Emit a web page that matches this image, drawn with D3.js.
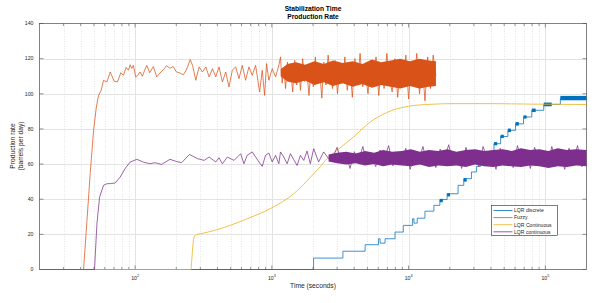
<!DOCTYPE html>
<html>
<head>
<meta charset="utf-8">
<script src="https://cdn.jsdelivr.net/npm/d3@7"></script>
<style>
body { margin: 0; background: #fff; }
svg { display: block; font-family: "Liberation Sans", Arial, sans-serif; }
</style>
</head>
<body>
<svg width="602" height="303"></svg>
<script>
// values: time (s) and production rate (barrels per day)
var seriesNames = ["LQR discrete", "Fuzzy", "LQR Continuous", "LQR continuous"];
var seriesColors = ["#0072BD", "#D95319", "#EDB120", "#7E2F8E"];

var yTicks = [0, 20, 40, 60, 80, 100, 120, 140];
var xTicks = [100, 1000, 10000, 100000];
var xExponents = ["2", "3", "4", "5"];

// LQR discrete: staircase levels, plus the short dark blocks where it chatters
var discreteT = [20, 2020, 3310, 4810, 6020, 6190, 6730, 7960, 9150, 10700, 10950, 11570, 13170, 15310, 16930, 19130, 23010, 25320, 28820, 31330, 33680, 37860, 42090, 47100, 53220, 60550, 69270, 79620, 97360, 128800, 200000];
var discreteV = [0, 6.5, 10.4, 14.1, 17.5, 15.0, 17.5, 21.3, 25.1, 28.9, 26.4, 29.2, 33.2, 36.5, 39.8, 43.1, 47.9, 51.7, 55.5, 58.7, 62.1, 66.5, 71.6, 75.7, 79.2, 82.9, 86.8, 90.6, 94.0, 97.6, 97.6];
var blockT0 = [16930, 19130, 25320, 42090, 47100, 53220, 60550, 69270, 79620, 97360, 128800];
var blockT1 = [17800, 20100, 26600, 44500, 49700, 56000, 64000, 73000, 85000, 111300, 200000];
var blockLo = [38.3, 41.6, 50.0, 70.7, 74.8, 78.2, 81.9, 85.9, 89.6, 92.9, 96.3];
var blockHi = [40.2, 43.4, 52.0, 72.5, 76.7, 80.2, 83.9, 87.7, 91.6, 95.0, 98.8];

// Fuzzy
var fuzzyT = [20, 42, 44.5, 47, 49.7, 52, 54, 56.5, 58.8, 62.2, 65.8, 70.3, 74.3, 78.7, 82.2, 85.9, 89.4, 92, 94.5, 97.2, 101, 104.5, 108.7, 113, 117, 121.7, 128, 136, 144, 152, 160, 170, 180, 190, 200, 213, 225, 235, 242, 253, 263, 278, 294, 311, 329, 348, 368, 389, 411, 435, 460, 486, 514, 544, 575, 608, 643, 680, 719, 761, 814, 851, 885, 915, 951, 1006, 1064, 1125];
var fuzzyV = [0, 0, 28, 55, 79, 92, 99, 102, 107.7, 106.7, 112.4, 107.2, 106.7, 112, 110.5, 115, 113.4, 116.5, 114.4, 116.2, 109.6, 110.5, 112.4, 110, 113, 116.2, 112, 115.5, 109.6, 111.8, 113.5, 116, 114.5, 115.5, 112.5, 111.8, 110.8, 113, 115.3, 119.5, 116.2, 107.7, 115.3, 112.4, 115.3, 109.6, 114.3, 109.6, 115.3, 106.7, 112.4, 103.9, 113.4, 115.3, 108.6, 116.2, 107.7, 115.3, 110.5, 116.2, 101.0, 113.4, 99.1, 117.2, 107.7, 114.3, 109.6, 116.2];
var fuzzyNoiseT = [1157, 1190, 1223, 1260, 1300, 1340, 1380, 1420, 1470, 1520, 1570, 1620, 1680, 1740, 1800, 1870, 1940, 2010, 2080, 2160, 2240, 2320, 2400, 2490, 2580, 2680, 2780, 2900, 3020, 3150, 3280, 3420, 3560, 3720, 3880, 4050, 4230, 4420, 4620, 4830, 5050, 5280, 5520, 5780, 6050, 6330, 6620, 6930, 7250, 7590, 7950, 8320, 8710, 9120, 9550, 10000, 10470, 10960, 11480, 12020, 12590, 13180, 13800, 14450, 15130, 15850];
var fuzzyNoiseV = [121, 106, 115, 103, 118, 108, 112, 101, 119, 105, 116, 102, 120, 107, 114, 99, 117, 104, 121, 108, 113, 97.5, 118, 105, 122, 110, 103, 119, 100, 116, 106, 121, 102, 115, 98, 120, 107, 123, 104, 112, 100, 119, 106, 121, 99, 117, 103, 123, 108, 101, 120, 98, 115, 104, 122, 97, 118, 106, 123, 100, 116, 96, 121, 103, 122, 110];
var fuzzyBandT = [1160, 1300, 1500, 1750, 2050, 2400, 2800, 3300, 3900, 4600, 5400, 6300, 7400, 8700, 10200, 12000, 14000, 15850];
var fuzzyBandLo = [110, 107, 106, 107.5, 105, 106.5, 104.5, 106, 104, 105.5, 103.5, 105, 104, 103, 104.5, 103, 104, 104.5];
var fuzzyBandHi = [114, 117, 118, 116.5, 118.5, 117, 119, 117.5, 118.5, 117, 119.5, 118, 119, 120, 118.5, 120, 119, 118.5];

// LQR Continuous
var contT = [20, 256, 260, 265, 270, 280, 300, 378, 500, 662, 1000, 1446, 2023, 2263, 2529, 2992, 3955, 5236, 6922, 9960, 14320, 21130, 40000, 80000, 200000];
var contV = [0, 0, 6, 14, 18.5, 19.8, 20.3, 22.2, 25.2, 28.9, 35.1, 43.1, 54.5, 58.5, 63.1, 67.8, 75.4, 83.9, 89.3, 92.9, 94.0, 94.4, 94.4, 94.1, 93.9];

// LQR continuous
var purpleT = [20, 50.5, 52.6, 55, 58.8, 62.2, 66, 71.5, 77.8, 84.5, 92, 103, 115, 128.5, 140, 156, 180, 200, 219, 250, 286, 320, 348, 389, 411, 435, 473, 529, 592, 625, 660, 719, 805, 851, 900, 951, 1006, 1064, 1125, 1157, 1223, 1294, 1368, 1446, 1530, 1618, 1711, 1809, 1913, 2023, 2198, 2392, 2600];
var purpleV = [0, 0, 26, 41.2, 47.9, 48.8, 48.9, 49.2, 52.6, 57.4, 61.1, 62.7, 61.1, 60.2, 60.8, 59.8, 62.7, 61.5, 60.8, 65.5, 63.1, 62.1, 64.0, 61.2, 63.6, 60.2, 64.0, 62.1, 65.9, 60.2, 65.0, 66.9, 61.2, 58.7, 65.0, 66.3, 61.2, 65.0, 60.2, 66.9, 64.0, 60.2, 65.9, 62.5, 59.2, 65.0, 62.1, 67.4, 60.2, 68.8, 61.2, 66.9, 63.1];
var purpleNoiseT = [2800, 3000, 3230, 3470, 3730, 4010, 4310, 4630, 4980, 5350, 5750, 6180, 6650, 7150, 7680, 8260, 8880, 9540, 10260, 11030, 11850, 12740, 13700, 14730, 15830, 17020, 18290, 19660, 21140, 22720, 24430, 26260, 28230, 30340, 32620, 35070, 37700, 40520, 43560, 46830, 50340, 54120, 58180, 62540, 67230, 72270, 77690, 83520, 89780, 96520, 103760, 111540, 119900, 128900, 138560, 148950, 160120, 172130, 185040, 198900];
var purpleNoiseV = [64, 69.5, 61, 66, 57.5, 67, 62, 70, 60, 65, 58.5, 68, 63, 70.5, 59, 66, 61.5, 69, 57, 65.5, 62, 70, 59.5, 67, 58, 68.5, 63, 71, 60, 66.5, 57.5, 69.5, 61, 65, 58.5, 70, 62.5, 67.5, 57, 69, 60.5, 66, 58, 70.5, 62, 68, 57.5, 69.5, 61, 65.5, 58.5, 70, 60, 67, 57, 69, 62, 70.5, 58.5, 63];
var purpleBandT = [2600, 3000, 3500, 4100, 4800, 5600, 6500, 7600, 8900, 10400, 12100, 14100, 16500, 19200, 22400, 26200, 30600, 35700, 41700, 48700, 56800, 66300, 77400, 90400, 105500, 123200, 143800, 167900, 200000];
var purpleBandLo = [61.5, 60.5, 59.8, 60.5, 59.2, 60, 58.8, 59.7, 59.2, 58.7, 59.7, 58.3, 59.2, 58.7, 59.2, 58.3, 59.7, 58.7, 58.3, 59.2, 58.7, 58.3, 59.2, 58.7, 57.8, 58.7, 58.3, 59.2, 58.7];
var purpleBandHi = [65.5, 66.5, 67, 66, 67.5, 66.5, 68, 67, 67.5, 68.5, 67, 68, 67.5, 68.5, 67, 68, 68.5, 67.5, 68, 68.5, 67.5, 69, 68, 68.5, 67.5, 69, 68, 68.5, 68];

var svg = d3.select("svg"),
    pl = 39.5, pr = 586.5, pt = 23.5, pb = 269.5,
    ink = "#262626";

var x = d3.scaleLog().domain([20, 200000]).range([pl, pr]);
var y = d3.scaleLinear().domain([0, 140]).range([pb, pt]);

function pairs(ts, vs) {
  return ts.map(function(t, i) { return [t, vs[i]]; });
}

var line = d3.line()
    .x(function(d) { return x(d[0]); })
    .y(function(d) { return y(d[1]); });

var band = d3.area()
    .x(function(d) { return x(d[0]); })
    .y0(function(d) { return y(d[1]); })
    .y1(function(d) { return y(d[2]); });

svg.append("defs").append("clipPath").attr("id", "plot")
  .append("rect").attr("x", pl).attr("y", pt)
    .attr("width", pr - pl + 1).attr("height", pb - pt + 1.5);

// grid
var minorTicks = x.ticks().filter(function(t) {
  return xTicks.indexOf(t) < 0 && t > 20 && t < 200000;
});

var grid = svg.append("g");
grid.selectAll(".minor").data(minorTicks).enter().append("line")
    .attr("x1", function(d) { return Math.round(x(d)) + 0.5; })
    .attr("x2", function(d) { return Math.round(x(d)) + 0.5; })
    .attr("y1", pt).attr("y2", pb)
    .attr("stroke", "#d4d4d4").attr("stroke-width", 0.6)
    .attr("stroke-dasharray", "1,1.5");
grid.selectAll(".majx").data(xTicks).enter().append("line")
    .attr("x1", function(d) { return Math.round(x(d)) + 0.5; })
    .attr("x2", function(d) { return Math.round(x(d)) + 0.5; })
    .attr("y1", pt).attr("y2", pb)
    .attr("stroke", "#e3e3e3").attr("stroke-width", 1);
grid.selectAll(".majy").data(yTicks.slice(1, -1)).enter().append("line")
    .attr("x1", pl).attr("x2", pr)
    .attr("y1", function(d) { return Math.round(y(d)) + 0.5; })
    .attr("y2", function(d) { return Math.round(y(d)) + 0.5; })
    .attr("stroke", "#e3e3e3").attr("stroke-width", 1);

// box and ticks (drawn under the data, as in the original)
svg.append("rect")
    .attr("x", pl).attr("y", pt)
    .attr("width", pr - pl).attr("height", pb - pt)
    .attr("fill", "none").attr("stroke", "#4d4d4d").attr("stroke-width", 0.7);

var ticks = svg.append("g").attr("stroke", "#4d4d4d").attr("stroke-width", 0.6);
yTicks.forEach(function(v) {
  ticks.append("line").attr("x1", pl).attr("x2", pl + 4).attr("y1", y(v)).attr("y2", y(v));
  ticks.append("line").attr("x1", pr).attr("x2", pr - 4).attr("y1", y(v)).attr("y2", y(v));
});
xTicks.concat(minorTicks).forEach(function(t) {
  var len = xTicks.indexOf(t) >= 0 ? 4 : 2.5;
  ticks.append("line").attr("x1", x(t)).attr("x2", x(t)).attr("y1", pb).attr("y2", pb - len);
  ticks.append("line").attr("x1", x(t)).attr("x2", x(t)).attr("y1", pt).attr("y2", pt + len);
});

var plot = svg.append("g").attr("clip-path", "url(#plot)");

// LQR discrete
plot.append("path")
    .datum(pairs(discreteT, discreteV))
    .attr("d", line.curve(d3.curveStepAfter))
    .attr("fill", "none").attr("stroke", seriesColors[0]).attr("stroke-width", 0.75);
line.curve(d3.curveLinear);
plot.selectAll(".block").data(blockT0).enter().append("rect")
    .attr("x", function(d) { return x(d); })
    .attr("width", function(d, i) { return x(blockT1[i]) - x(d); })
    .attr("y", function(d, i) { return y(blockHi[i]); })
    .attr("height", function(d, i) { return y(blockLo[i]) - y(blockHi[i]); })
    .attr("fill", seriesColors[0]);

// Fuzzy
plot.append("path")
    .datum(fuzzyBandT.map(function(t, i) { return [t, fuzzyBandLo[i], fuzzyBandHi[i]]; }))
    .attr("d", band).attr("fill", seriesColors[1]);
plot.append("path")
    .datum(pairs(fuzzyT.concat(fuzzyNoiseT), fuzzyV.concat(fuzzyNoiseV)))
    .attr("d", line)
    .attr("fill", "none").attr("stroke", seriesColors[1]).attr("stroke-width", 0.75)
    .attr("stroke-linejoin", "round");

// LQR Continuous
plot.append("path")
    .datum(pairs(contT, contV))
    .attr("d", line.curve(d3.curveMonotoneX))
    .attr("fill", "none").attr("stroke", seriesColors[2]).attr("stroke-width", 0.8);
line.curve(d3.curveLinear);

// LQR continuous
plot.append("path")
    .datum(purpleBandT.map(function(t, i) { return [t, purpleBandLo[i], purpleBandHi[i]]; }))
    .attr("d", band).attr("fill", seriesColors[3]);
plot.append("path")
    .datum(pairs(purpleT.concat(purpleNoiseT), purpleV.concat(purpleNoiseV)))
    .attr("d", line)
    .attr("fill", "none").attr("stroke", seriesColors[3]).attr("stroke-width", 0.75)
    .attr("stroke-linejoin", "round");

svg.selectAll(".ylab").data(yTicks).enter().append("text")
    .attr("x", pl - 6).attr("y", function(d) { return y(d) + 1.8; })
    .attr("text-anchor", "end").attr("font-size", 5.2).attr("fill", ink)
    .text(function(d) { return d; });

var xl = svg.selectAll(".xlab").data(xTicks).enter().append("text")
    .attr("x", function(d) { return x(d); }).attr("y", 279.5)
    .attr("text-anchor", "middle").attr("font-size", 5.2).attr("fill", ink);
xl.append("tspan").text("10");
xl.append("tspan").attr("dy", -3).attr("font-size", 3.8)
    .text(function(d, i) { return xExponents[i]; });

// titles
svg.append("text").attr("x", (pl + pr) / 2).attr("y", 10.5)
    .attr("text-anchor", "middle").attr("font-size", 6.7).attr("font-weight", "bold")
    .attr("fill", "#000").text("Stabilization Time");
svg.append("text").attr("x", (pl + pr) / 2).attr("y", 18.8)
    .attr("text-anchor", "middle").attr("font-size", 6.7).attr("font-weight", "bold")
    .attr("fill", "#000").text("Production Rate");

svg.append("text").attr("x", (pl + pr) / 2).attr("y", 288)
    .attr("text-anchor", "middle").attr("font-size", 6.7).attr("fill", ink)
    .text("Time (seconds)");

var yl = svg.append("text")
    .attr("transform", "translate(15,146) rotate(-90)")
    .attr("text-anchor", "middle").attr("font-size", 6.7).attr("fill", ink);
yl.append("tspan").attr("x", 0).attr("y", 0).text("Production rate");
yl.append("tspan").attr("x", 0).attr("y", 7.8).text("(barrels per day)");

// legend
var legend = svg.append("g").attr("transform", "translate(491.5,205.5)");
legend.append("rect").attr("width", 66).attr("height", 30)
    .attr("fill", "#fff").attr("stroke", ink).attr("stroke-width", 0.6);
var entry = legend.selectAll(".entry").data(seriesNames).enter().append("g")
    .attr("transform", function(d, i) { return "translate(0," + (5 + i * 7.1) + ")"; });
entry.append("line").attr("x1", 2).attr("x2", 21)
    .attr("stroke", function(d, i) { return seriesColors[i]; }).attr("stroke-width", 0.8);
entry.append("text").attr("x", 22.5).attr("y", 1.8)
    .attr("font-size", 5.1).attr("fill", ink)
    .text(function(d) { return d; });
</script>
</body>
</html>
